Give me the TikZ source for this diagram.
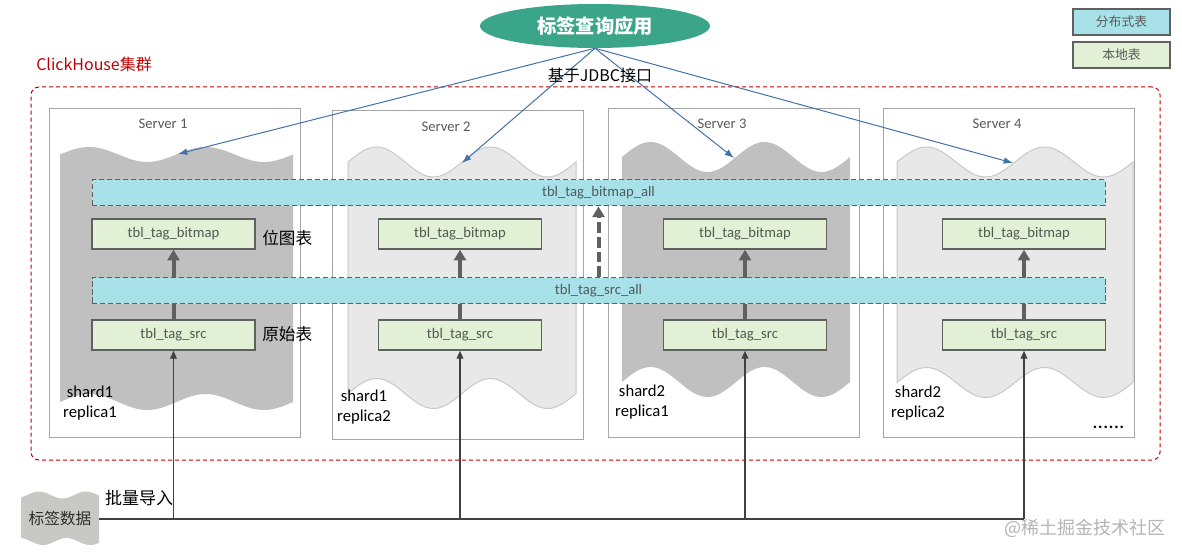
\documentclass[tikz,border=0pt]{standalone}
\usepackage{fontspec}
\setmainfont{Carlito}
\newfontfamily\cjk{Noto Sans CJK SC}
\usetikzlibrary{arrows.meta,shapes.geometric,calc}
\definecolor{teal}{RGB}{59,165,137}
\definecolor{cyanfill}{RGB}{168,226,232}
\definecolor{greenfill}{RGB}{226,240,214}
\definecolor{darkwave}{RGB}{192,192,192}
\definecolor{lightwave}{RGB}{232,232,232}
\definecolor{lightwaveborder}{RGB}{200,200,200}
\definecolor{srvgray}{RGB}{166,166,166}
\definecolor{txtgray}{RGB}{89,89,89}
\definecolor{boxborder}{RGB}{96,96,96}
\definecolor{arrowgray}{RGB}{96,96,96}
\definecolor{jdbcblue}{RGB}{68,114,166}
\definecolor{cred}{RGB}{192,0,0}
\definecolor{datagray}{RGB}{200,200,196}
\definecolor{wmgray}{RGB}{180,180,180}
\definecolor{tbltext}{RGB}{80,90,80}
\definecolor{bartext}{RGB}{80,90,96}
\definecolor{importcol}{RGB}{64,64,64}
\newcommand{\wavefill}[7]{%
  \path[#7] plot[domain=#1:#2,samples=80,smooth] (\x,{#3-#4*sin((\x-#1)*(720/(#2-#1)))})
   -- plot[domain=#2:#1,samples=80,smooth] (\x,{#5-#6*sin((\x-#1)*(720/(#2-#1)))}) -- cycle;}
\begin{document}
\begin{tikzpicture}[x=0.75pt,y=-0.75pt,
  srvbox/.style={draw=srvgray, line width=0.75pt, minimum width=188.25pt, minimum height=246pt, inner sep=0pt},
  srvlbl/.style={font=\fontsize{11}{13}\selectfont, text=txtgray},
  shardlbl/.style={font=\fontsize{12.5}{15}\selectfont, align=center, text=black},
  tblbox/.style={draw=boxborder, line width=1.1pt, fill=greenfill, minimum width=122.25pt, minimum height=22.5pt, inner sep=0pt, font=\fontsize{11}{13}\selectfont, text=tbltext},
  barbox/.style={draw=boxborder, line width=0.75pt, dash pattern=on 4pt off 2pt, fill=cyanfill, minimum width=759.75pt, minimum height=19.5pt, inner sep=0pt, font=\fontsize{11}{13}\selectfont, text=bartext},
  legendbox/.style={draw=boxborder, line width=1.2pt, minimum width=72.75pt, minimum height=19.5pt, inner sep=0pt, font=\cjk\fontsize{9.6}{11}\selectfont, text=txtgray},
  thickarrow/.style={draw=arrowgray, line width=3pt, -{Triangle[width=9pt,length=8pt]}},
  jdbcarrow/.style={draw=jdbcblue, line width=0.75pt, -{Latex[width=5pt,length=7pt]}},
  importh/.style={draw=importcol, line width=1.5pt},
  importv/.style={draw=importcol, line width=1.1pt, -{Triangle[width=5pt,length=6pt]}},
  cjklbl/.style={font=\cjk\fontsize{12.5}{15}\selectfont, text=black}
]
\useasboundingbox (0,0) rectangle (1182,556);
\fill[white] (0,0) rectangle (1182,556);

% cluster
\node[draw=cred, line width=0.75pt, dash pattern=on 3pt off 2.25pt, rounded corners=6pt,
  minimum width=846.75pt, minimum height=279.75pt, inner sep=0pt] (cluster) at (595.5,273.5) {};
\node[font=\cjk\fontsize{12}{14}\selectfont, text=cred, anchor=west, inner sep=0pt] (cklbl) at (36,64) {ClickHouse集群};

% servers
\node[srvbox] (s1) at (174.5,273) {};
\node[srvbox] (s2) at (458,275) {};
\node[srvbox] (s3) at (733.5,273) {};
\node[srvbox] (s4) at (1008.5,273) {};

% waves
\wavefill{60}{293}{154.5}{7.5}{402}{8}{fill=darkwave}
\wavefill{348}{576}{162}{15}{393.5}{15}{fill=lightwave,draw=lightwaveborder,line width=0.75pt}
\wavefill{622}{850}{157}{15}{382}{15}{fill=darkwave}
\wavefill{897}{1133}{162}{15}{382.5}{15}{fill=lightwave,draw=lightwaveborder,line width=0.75pt}

\node[srvlbl] (s1l) at (163,124) {Server 1};
\node[srvlbl] (s2l) at (446,127) {Server 2};
\node[srvlbl] (s3l) at (722,124) {Server 3};
\node[srvlbl] (s4l) at (997,124) {Server 4};

\node[shardlbl] (sh1) at (90,403) {shard1\\replica1};
\node[shardlbl] (sh2) at (364,407.5) {shard1\\replica2};
\node[shardlbl] (sh3) at (642,402.5) {shard2\\replica1};
\node[shardlbl] (sh4) at (918,403.5) {shard2\\replica2};

% local tables
\node[tblbox] (bm1) at (173.5,234) {tbl\_tag\_bitmap};
\node[tblbox] (bm2) at (460,234) {tbl\_tag\_bitmap};
\node[tblbox] (bm3) at (745,234) {tbl\_tag\_bitmap};
\node[tblbox] (bm4) at (1024,234) {tbl\_tag\_bitmap};
\node[tblbox] (src1) at (173.5,335) {tbl\_tag\_src};
\node[tblbox] (src2) at (460,335) {tbl\_tag\_src};
\node[tblbox] (src3) at (745,335) {tbl\_tag\_src};
\node[tblbox] (src4) at (1024,335) {tbl\_tag\_src};

\foreach \i in {1,...,4} \draw[thickarrow] (src\i.north) -- (bm\i.south);

% distributed tables
\node[barbox] (bmall) at (598.5,193) {tbl\_tag\_bitmap\_all};
\node[barbox] (srcall) at (598.5,290.5) {tbl\_tag\_src\_all};
\draw[thickarrow, dash pattern=on 8pt off 3pt] (srcall.north) -- (bmall.south);

\node[cjklbl, anchor=west, inner sep=0pt] (lblbm) at (262,238) {位图表};
\node[cjklbl, anchor=west, inner sep=0pt] (lblsrc) at (262,334.5) {原始表};

% application
\node[ellipse, fill=teal, minimum width=172.5pt, minimum height=33pt, inner sep=0pt, text=white,
  font=\cjk\bfseries\fontsize{14.5}{17}\selectfont] (app) at (595,26) {标签查询应用};
\coordinate (t1) at (178,154);
\coordinate (t2) at (462,163);
\coordinate (t3) at (734,158);
\coordinate (t4) at (1013,163);
\foreach \i in {1,...,4} \draw[jdbcarrow] (app.south) -- (t\i);
\node[font=\cjk\fontsize{12}{14}\selectfont, text=black] (jdbclbl) at (600,75) {基于JDBC接口};

% legend
\node[legendbox, fill=cyanfill] (lg1) at (1121.5,22) {分布式表};
\node[legendbox, fill=greenfill] (lg2) at (1121.5,55) {本地表};

% data source
\path[fill=datagray] plot[domain=21:99,samples=40,smooth] (\x,{495-3.5*sin((\x-21)*(360/47)-48)})
  -- plot[domain=99:21,samples=40,smooth] (\x,{541.5-3.5*sin((\x-21)*(360/47)+101)}) -- cycle;
\node[minimum width=58.5pt, minimum height=36pt, inner sep=0pt, font=\cjk\fontsize{11.8}{14}\selectfont, text={rgb,255:red,45;green,45;blue,45}] (data) at (60,519) {标签数据};
\draw[importh] (data.east) -- (src4.south |- data.east);
\foreach \i in {1,...,4} \draw[importv] (src\i.south |- data.east) -- (src\i.south);
\node[font=\cjk\fontsize{12.75}{15}\selectfont, text=black] (bulk) at (139,498) {批量导入};

\node[anchor=base west, inner sep=0pt, font=\fontsize{16}{18}\selectfont] (dots) at (1092,428) {......};
\node[font=\cjk\fontsize{13.5}{16}\selectfont, text=wmgray] (wmark) at (1085,528) {@稀土掘金技术社区};
\end{tikzpicture}
\end{document}
